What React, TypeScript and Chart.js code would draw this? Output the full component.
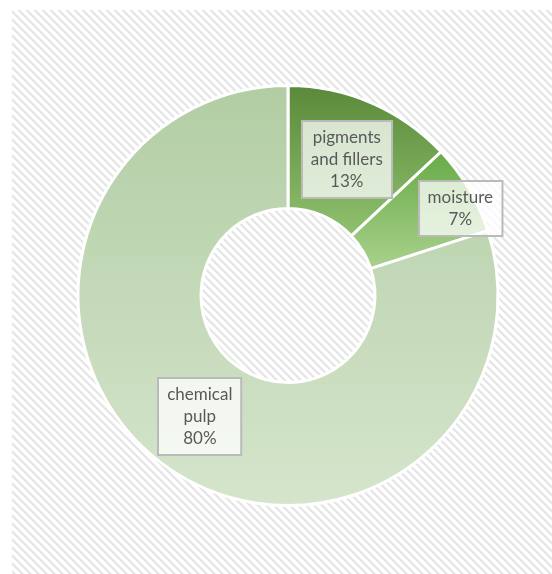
import React, { useEffect, useRef } from "react";
import { Chart, registerables } from "chart.js";

Chart.register(...registerables);

// ---- data ----
const categories = ["pigments and fillers", "moisture", "chemical pulp"];
const shares = [13, 7, 80];
const labelLines = [["pigments", "and fillers"], ["moisture"], ["chemical", "pulp"]];

// ---- style ----
const TOP_COLORS = ["#5a8a39", "#68ab46", "#b2cda4"];
const BOTTOM_COLORS = ["#8fc16f", "#a9d18d", "#d5e5cc"];
const OUTER = 210;
const INNER = 87;
const LABEL_PLACE = [
  { r: 148, da: 0 },
  { r: 193, da: 3.8 },
  { r: 150, da: 0 },
];
const FONT = '17px Lato, "Liberation Sans", sans-serif';
const LINE_H = 22;

function makePattern(ctx: CanvasRenderingContext2D) {
  const c = document.createElement("canvas");
  c.width = 8;
  c.height = 8;
  const p = c.getContext("2d")!;
  p.fillStyle = "#ffffff";
  p.fillRect(0, 0, 8, 8);
  const shade: Record<number, string> = { 0: "#e4e4e4", 1: "#e4e4e4", 2: "#eeeeee", 7: "#f5f5f5" };
  for (let y = 0; y < 8; y++) {
    for (let x = 0; x < 8; x++) {
      const d = (((x - y) % 8) + 8) % 8;
      if (shade[d]) {
        p.fillStyle = shade[d];
        p.fillRect(x, y, 1, 1);
      }
    }
  }
  return ctx.createPattern(c, "repeat");
}

function sliceAngles(i: number) {
  const total = shares.reduce((a, b) => a + b, 0);
  let start = 0;
  for (let j = 0; j < i; j++) start += shares[j];
  const a0 = (start / total) * Math.PI * 2 - Math.PI / 2;
  const a1 = ((start + shares[i]) / total) * Math.PI * 2 - Math.PI / 2;
  return [a0, a1];
}

function sliceGradient(chart: any, i: number) {
  const area = chart.chartArea;
  if (!area) return TOP_COLORS[i];
  const cy = (area.top + area.bottom) / 2;
  const [a0, a1] = sliceAngles(i);
  let yMin = Infinity;
  let yMax = -Infinity;
  for (let k = 0; k <= 90; k++) {
    const a = a0 + ((a1 - a0) * k) / 90;
    for (const r of [INNER, OUTER]) {
      const y = cy + r * Math.sin(a);
      yMin = Math.min(yMin, y);
      yMax = Math.max(yMax, y);
    }
  }
  const g = chart.ctx.createLinearGradient(0, yMin, 0, yMax);
  g.addColorStop(0, TOP_COLORS[i]);
  g.addColorStop(1, BOTTOM_COLORS[i]);
  return g;
}

const backgroundPlugin = {
  id: "hatchBg",
  beforeDraw(chart: any) {
    const ctx = chart.ctx as CanvasRenderingContext2D;
    const pat = makePattern(ctx);
    ctx.save();
    if (pat) ctx.fillStyle = pat;
    ctx.fillRect(12, 10, chart.width - 12, chart.height - 10);
    ctx.restore();
  },
};

const labelPlugin = {
  id: "boxLabels",
  afterDatasetsDraw(chart: any) {
    const ctx = chart.ctx as CanvasRenderingContext2D;
    const area = chart.chartArea;
    const cx = (area.left + area.right) / 2;
    const cy = (area.top + area.bottom) / 2;
    const total = shares.reduce((a, b) => a + b, 0);
    ctx.save();
    ctx.font = FONT;
    shares.forEach((v, i) => {
      const [a0, a1] = sliceAngles(i);
      const mid = (a0 + a1) / 2 + (LABEL_PLACE[i].da * Math.PI) / 180;
      const r = LABEL_PLACE[i].r;
      const x = cx + r * Math.cos(mid);
      const y = cy + r * Math.sin(mid);
      const lines = [...labelLines[i], `${Math.round((v / total) * 100)}%`];
      const w = Math.max(...lines.map((l) => ctx.measureText(l).width)) + 18;
      const h = lines.length * LINE_H + 11;
      const bx = Math.round(x - w / 2);
      const by = Math.round(y - h / 2);
      ctx.fillStyle = "rgba(255,255,255,0.75)";
      ctx.fillRect(bx, by, w, h);
      ctx.strokeStyle = "#bababa";
      ctx.lineWidth = 2;
      ctx.strokeRect(bx, by, w, h);
      ctx.fillStyle = "#595959";
      ctx.textAlign = "center";
      ctx.textBaseline = "middle";
      lines.forEach((l, k) => {
        ctx.fillText(l, x, y + (k - (lines.length - 1) / 2) * LINE_H);
      });
    });
    ctx.restore();
  },
};

export default function App() {
  const ref = useRef<HTMLCanvasElement>(null);
  useEffect(() => {
    if (!ref.current) return;
    const chart = new Chart(ref.current, {
      type: "doughnut",
      data: {
        labels: categories,
        datasets: [
          {
            data: shares,
            backgroundColor: (c: any) => sliceGradient(c.chart, c.dataIndex),
            borderColor: "#ffffff",
            borderWidth: 3,
            hoverOffset: 0,
          },
        ],
      },
      options: {
        responsive: false,
        animation: false,
        radius: OUTER,
        cutout: `${(INNER / OUTER) * 100}%`,
        layout: { padding: { left: 24, right: 0, top: 17, bottom: 0 } },
        plugins: {
          legend: { display: false },
          tooltip: { enabled: false },
        },
      } as any,
      plugins: [backgroundPlugin, labelPlugin],
    });
    return () => chart.destroy();
  }, []);
  return (
    <div style={{ position: "fixed", left: 0, top: 0, width: 552, height: 574, background: "#ffffff" }}>
      <canvas ref={ref} width={552} height={574} />
    </div>
  );
}
